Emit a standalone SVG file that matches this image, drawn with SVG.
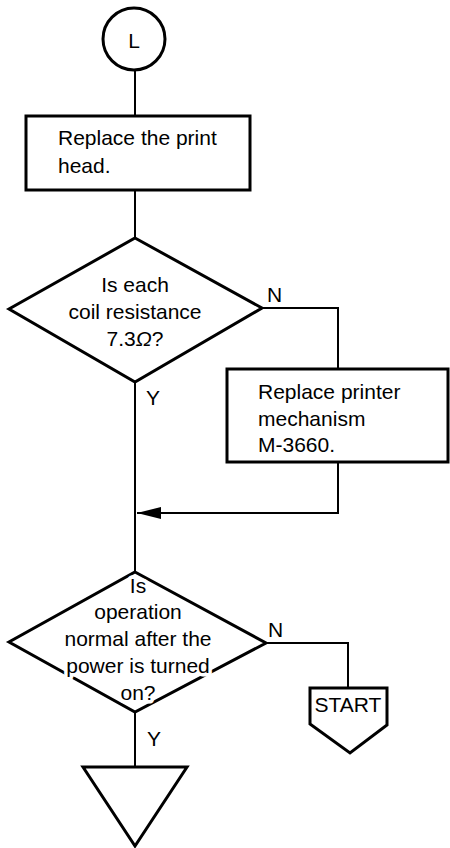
<svg xmlns="http://www.w3.org/2000/svg" width="450" height="848" viewBox="0 0 450 848">
<style>
.shape{fill:#fff;stroke:#000;stroke-width:3;stroke-linejoin:miter}
.line{fill:none;stroke:#000;stroke-width:2}
text{font-family:"Liberation Sans",Arial,sans-serif;font-size:21px;fill:#000}
.c{text-anchor:middle}
.halo{stroke:#fff;stroke-width:7px;paint-order:stroke fill;stroke-linejoin:round}
</style>
<defs>
<marker id="arr" viewBox="0 0 24 12" refX="24" refY="6" markerWidth="24" markerHeight="12" markerUnits="userSpaceOnUse" orient="auto">
<path d="M0,0 L24,6 L0,12 Z" fill="#000"/>
</marker>
</defs>
<g id="connectors">
<path class="line" d="M135,70 V116"/>
<path class="line" d="M135,190 V238"/>
<path class="line" d="M262,308 H338 V369"/>
<path class="line" d="M135,382 V572"/>
<path class="line" d="M338,462 V513 H137" marker-end="url(#arr)"/>
<path class="line" d="M266,643 H348 V688"/>
<path class="line" d="M135,712 V767"/>
<text x="267" y="302">N</text>
<text x="146" y="405">Y</text>
<text x="268" y="637">N</text>
<text x="147" y="746">Y</text>
</g>
<g id="nodeL">
<circle class="shape" cx="134" cy="39" r="31"/>
<text class="c" x="134" y="48" font-size="23">L</text>
</g>
<g id="replaceHead">
<rect class="shape" x="26" y="116" width="224" height="74"/>
<text x="58" y="145">Replace the print</text>
<text x="58" y="173">head.</text>
</g>
<g id="coilCheck">
<polygon class="shape" points="135,238 262,308 135,382 9,309"/>
<text class="c" x="135" y="292">Is each</text>
<text class="c" x="135" y="319">coil resistance</text>
<text class="c" x="135" y="346">7.3<tspan font-style="italic">Ω</tspan>?</text>
</g>
<g id="replaceMech">
<rect class="shape" x="227" y="369" width="221" height="93"/>
<text x="258" y="399">Replace printer</text>
<text x="258" y="426">mechanism</text>
<text x="258" y="452">M-3660.</text>
</g>
<g id="opCheck">
<polygon class="shape" points="135,572 266,643 135,712 9,642"/>
<text class="c halo" x="138" y="593">Is</text>
<text class="c halo" x="138" y="619">operation</text>
<text class="c halo" x="138" y="646">normal after the</text>
<text class="c halo" x="138" y="673">power is turned</text>
<text class="c halo" x="138" y="700">on?</text>
</g>
<g id="startConn">
<path class="shape" d="M310,688 H387 V725 L350,753 L310,724 Z"/>
<text class="c" x="348" y="712" font-size="20">START</text>
</g>
<g id="offPage">
<polygon class="shape" points="83,767 187,767 135,846"/>
</g>
</svg>
